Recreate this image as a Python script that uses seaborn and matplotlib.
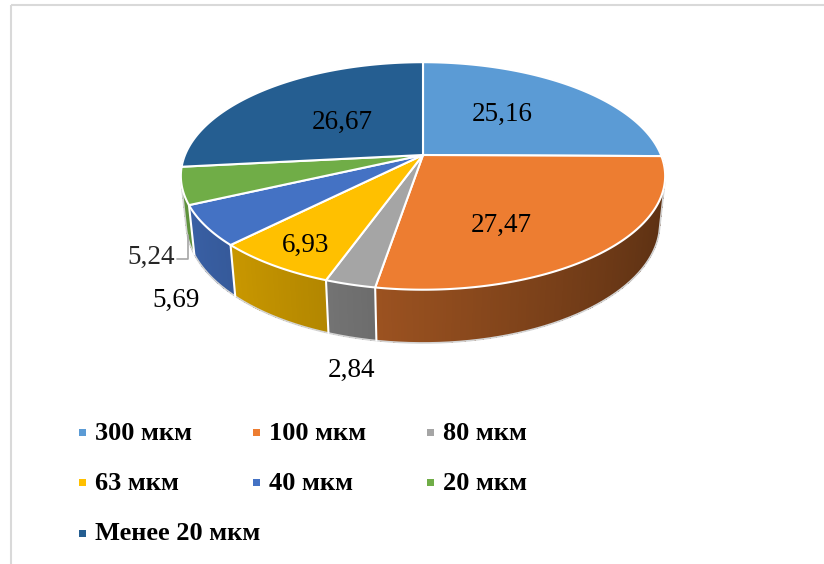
import numpy as np
import matplotlib
matplotlib.use("Agg")
import matplotlib.pyplot as plt
import seaborn as sns
from matplotlib.patches import Polygon, Rectangle
from matplotlib.colors import to_rgb

# Particle-size fractions, % of mass
sizes = ["300 мкм", "100 мкм", "80 мкм", "63 мкм", "40 мкм", "20 мкм", "Менее 20 мкм"]
shares = [25.16, 27.47, 2.84, 6.93, 5.69, 5.24, 26.67]
colors = ["#5B9BD5", "#ED7D31", "#A5A5A5", "#FFC000", "#4472C4", "#70AD47", "#255E91"]

sns.set_theme(style="white")
plt.rcParams["font.family"] = ["Liberation Serif", "DejaVu Serif"]

# --- perspective projection of a flat cylinder (pie in the z=0 plane) ---
CX, CY = 423.0, 155.0          # screen position of the pie centre
K = 238.0                      # horizontal scale
ALPHA = np.radians(27.5)       # elevation of the viewer
DIST = 4.816                   # camera distance (pie radius = 1)
H = 0.225                      # thickness of the pie
SA, CA = np.sin(ALPHA), np.cos(ALPHA)


def project(theta, r=1.0, z=0.0):
    """theta measured clockwise from 12 o'clock, as seen from above."""
    theta = np.asarray(theta, dtype=float)
    px = r * np.sin(theta)
    py = r * np.cos(theta)
    depth = DIST + py * CA - z * SA
    x = CX + K * px * DIST / depth
    y = CY - K * (py * SA + z * CA) * DIST / depth
    return x, y


def shade(color, theta):
    k = 0.62 + 0.24 * (-np.sin(theta))
    r, g, b = to_rgb(color)
    return (r * k, g * k, b * k)


fig = plt.figure(figsize=(8.24, 5.64), dpi=100)
ax = fig.add_axes([0, 0, 1, 1])
ax.set_xlim(0, 824)
ax.set_ylim(564, 0)
ax.axis("off")

# chart area frame
ax.add_patch(Rectangle((11, 5), 830, 580, fill=False, edgecolor="#D9D9D9", lw=1.5, zorder=0))

vals = np.array(shares, dtype=float)
edges = np.concatenate([[0.0], np.cumsum(vals)]) / vals.sum() * 2 * np.pi
starts, ends = edges[:-1], edges[1:]
mids = (starts + ends) / 2

# --- outer side wall (front half only), split into thin shaded strips ---
strips = []
lo_vis, hi_vis = np.pi / 2, 3 * np.pi / 2
step = np.radians(0.6)
for i, (t0, t1) in enumerate(zip(starts, ends)):
    a, b = max(t0, lo_vis), min(t1, hi_vis)
    if b <= a:
        continue
    n = max(2, int((b - a) / step))
    ts = np.linspace(a, b, n + 1)
    for ta, tb in zip(ts[:-1], ts[1:]):
        strips.append((np.cos((ta + tb) / 2), i, ta, tb, b))
strips.sort(key=lambda s: -s[0])
for _, i, ta, tb, bmax in strips:
    tb2 = min(tb + step * 0.6, bmax)
    tt = np.linspace(ta, tb2, 4)
    xt, yt = project(tt, 1, 0)
    xb, yb = project(tt[::-1], 1, -H)
    poly = np.column_stack([np.concatenate([xt, xb]), np.concatenate([yt, yb])])
    c = shade(colors[i], (ta + tb) / 2)
    ax.add_patch(Polygon(poly, closed=True, facecolor=c, edgecolor="none",
                         antialiased=False, zorder=2))

# light rim along the lower outline of the wall
t_sil = np.arccos(-1.0 / (DIST * CA))
tt = np.linspace(t_sil, 2 * np.pi - t_sil, 300)
xb, yb = project(tt, 1, -H)
xr0, yr0 = project(t_sil, 1, 0)
xl0, yl0 = project(2 * np.pi - t_sil, 1, 0)
ax.plot(np.concatenate([[xr0], xb, [xl0]]), np.concatenate([[yr0], yb, [yl0]]),
        color="#D4D4D4", lw=1.2, zorder=3, solid_joinstyle="round")

# white seams on the side wall at slice boundaries facing the viewer
limit = -1.0 / (DIST * CA)
for t in starts[1:]:
    if np.cos(t) < limit:
        x0, y0 = project(t, 1, 0)
        x1, y1 = project(t, 1, -H)
        ax.plot([x0, x1], [y0, y1], color="white", lw=1.5, zorder=3)

# --- top faces ---
for i, (t0, t1) in enumerate(zip(starts, ends)):
    tt = np.linspace(t0, t1, max(8, int(np.degrees(t1 - t0) * 2)))
    x, y = project(tt, 1, 0)
    poly = np.column_stack([np.concatenate([[CX], x]), np.concatenate([[CY], y])])
    ax.add_patch(Polygon(poly, closed=True, facecolor=colors[i], edgecolor="white",
                         lw=1.5, joinstyle="round", zorder=4))

# --- data labels ---
label_fs = 19.5
fmt = [f"{v:.2f}".replace(".", ",") for v in shares]
# (radius, height, dx, dy) per label
place = [(0.5, 0.0, 0, -4), (0.5, 0.0, -4, 25), (1.0, -H, 0, 33),
         (0.8, 0.0, -2, 5), (1.0, -H, -34, 24), None, (0.5, 0.0, 3, 2)]
for i, p in enumerate(place):
    if p is None:
        continue
    r, z, dx, dy = p
    x, y = project(mids[i], r, z)
    ax.text(x + dx, y + dy, fmt[i], ha="center", va="center", fontsize=label_fs,
            color="black", zorder=6)

# small slice with a leader line
ax5, ay5 = project(mids[5], 1.0, -H)
ax.plot([ax5 + 1, ax5 + 1, ax5 - 10], [ay5 + 1, ay5 + 25, ay5 + 25], color="#A6A6A6", lw=1.2, zorder=5)
ax.text(ax5 - 12, ay5 + 23, fmt[5], ha="right", va="center", fontsize=label_fs, zorder=6)

# --- legend (three columns, row-major order) ---
col_x = [83, 257, 431]
row_y = [432, 482, 533]
for i, name in enumerate(sizes):
    r, c = divmod(i, 3)
    mx, my = col_x[c], row_y[r]
    ax.add_patch(Rectangle((mx - 3.5, my - 3.5), 7, 7, facecolor=colors[i], edgecolor="none", zorder=5))
    ax.text(mx + 12, my + 1, name, ha="left", va="center", fontsize=19,
            fontweight="bold", color="black", zorder=6)

fig.savefig("out.png", dpi=100)
